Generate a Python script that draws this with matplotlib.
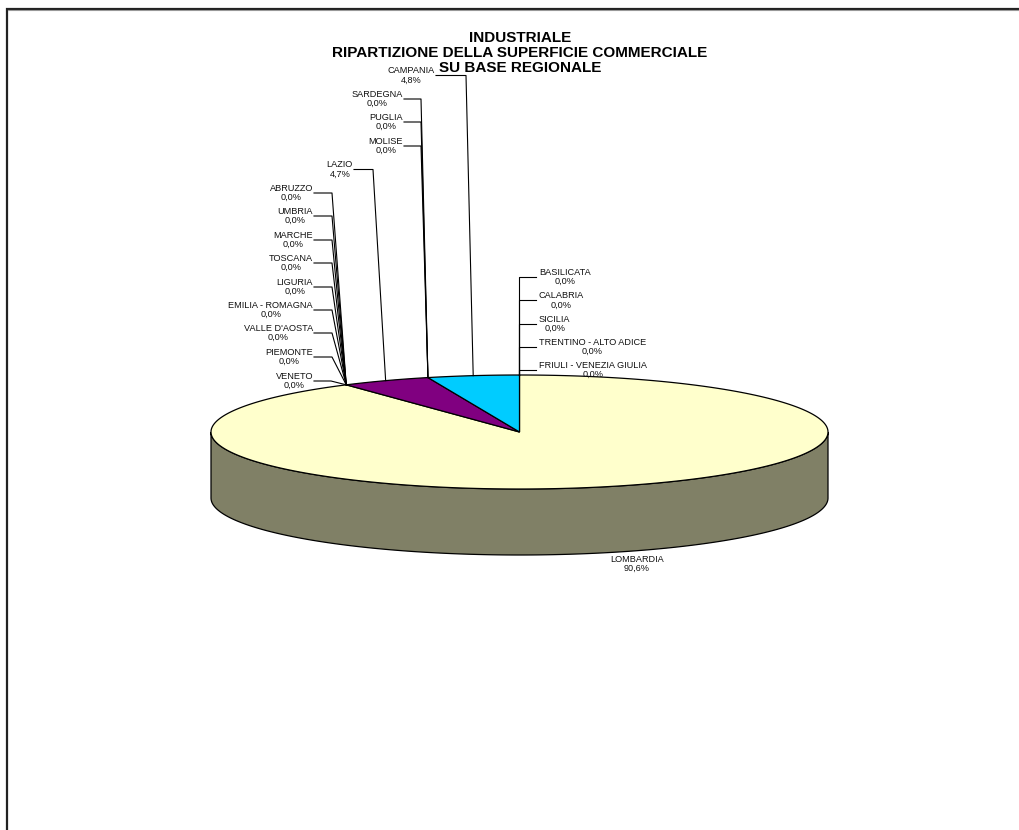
import numpy as np
import matplotlib
matplotlib.use("Agg")
import matplotlib.pyplot as plt
from matplotlib.colors import to_rgb

plt.rcParams["font.family"] = ["Liberation Sans", "DejaVu Sans"]

# Slices in drawing order, clockwise from 12 o'clock
regions = ["LOMBARDIA", "VENETO", "PIEMONTE", "VALLE D'AOSTA", "EMILIA - ROMAGNA",
           "LIGURIA", "TOSCANA", "MARCHE", "UMBRIA", "ABRUZZO", "LAZIO",
           "MOLISE", "PUGLIA", "SARDEGNA", "CAMPANIA",
           "FRIULI - VENEZIA GIULIA", "TRENTINO - ALTO ADICE", "SICILIA",
           "CALABRIA", "BASILICATA"]
shares = [90.6, 0.0, 0.0, 0.0, 0.0, 0.0, 0.0, 0.0, 0.0, 0.0, 4.7,
          0.0, 0.0, 0.0, 4.8, 0.0, 0.0, 0.0, 0.0, 0.0]
slice_colors = ["#FFFFCC", "#9999FF", "#993366", "#CCFFFF", "#660066",
                "#FF8080", "#0066CC", "#CCCCFF", "#000080", "#FF00FF", "#800080",
                "#FFFF00", "#00FFFF", "#800000", "#00CCFF",
                "#008080", "#0000FF", "#CCFFCC", "#FFFF99", "#99CCFF"]
title_lines = ["INDUSTRIALE",
               "RIPARTIZIONE DELLA SUPERFICIE COMMERCIALE",
               "SU BASE REGIONALE"]

# label placement: text x, text y, alignment, elbow x of the leader (None = no leader)
label_pos = {
    "ABRUZZO": (313, 193, "right", 332),
    "UMBRIA": (313, 216, "right", 332),
    "MARCHE": (313, 240, "right", 332),
    "TOSCANA": (313, 263, "right", 332),
    "LIGURIA": (313, 287, "right", 332),
    "EMILIA - ROMAGNA": (313, 310, "right", 332),
    "VALLE D'AOSTA": (313, 333, "right", 332),
    "PIEMONTE": (313, 357, "right", 332),
    "VENETO": (313, 381, "right", 331),
    "LAZIO": (353, 169.5, "right", 373),
    "SARDEGNA": (403, 99, "right", 421),
    "PUGLIA": (403, 122, "right", 421),
    "MOLISE": (403, 146, "right", 421),
    "CAMPANIA": (435, 75.5, "right", 466),
    "BASILICATA": (539, 277, "left", None),
    "CALABRIA": (539, 300.5, "left", None),
    "SICILIA": (539, 324, "left", None),
    "TRENTINO - ALTO ADICE": (539, 347, "left", None),
    "FRIULI - VENEZIA GIULIA": (539, 370, "left", None),
    "LOMBARDIA": (637, 564, "center", "none"),
}

# pie geometry (pixel units)
CX, CY, RX, RY, DEPTH = 519.5, 432.0, 308.5, 57.0, 66.0

fig = plt.figure(figsize=(10.2, 8.3), dpi=100)
ax = fig.add_axes([0, 0, 1, 1])
ax.set_xlim(0, 1020)
ax.set_ylim(830, 0)
ax.axis("off")


def ell(theta_deg, dy=0.0):
    t = np.radians(theta_deg)
    return CX + RX * np.cos(t), CY - RY * np.sin(t) + dy


vals = np.array(shares)
frac = vals / vals.sum()
cum = np.concatenate([[0.0], np.cumsum(frac)])
start_ang = 90 - 360 * cum[:-1]
end_ang = 90 - 360 * cum[1:]

# side walls (only the front half of the disc is visible)
for a0, a1, col in zip(start_ang, end_ang, slice_colors):
    lo, hi = max(a1, -180.0), min(a0, 0.0)
    if hi - lo <= 0:
        continue
    th = np.linspace(lo, hi, 200)
    xt, yt = ell(th)
    xb, yb = ell(th[::-1], DEPTH)
    shade = tuple(c * 0.5 for c in to_rgb(col))
    ax.fill(np.concatenate([xt, xb]), np.concatenate([yt, yb]),
            facecolor=shade, edgecolor="black", linewidth=0.9, zorder=1)

# top faces
for a0, a1, col in zip(start_ang, end_ang, slice_colors):
    if a0 - a1 <= 0:
        continue
    th = np.linspace(a0, a1, max(4, int((a0 - a1) * 2)))
    xs, ys = ell(th)
    ax.fill(np.concatenate([[CX], xs]), np.concatenate([[CY], ys]),
            facecolor=col, edgecolor="black", linewidth=0.9, zorder=2)

# labels and leader lines
for name, v, a0, a1 in zip(regions, shares, start_ang, end_ang):
    tx, ty, ha, elbow = label_pos[name]
    txt = f"{name}\n{v:.1f}%".replace(".", ",")
    ax.text(tx, ty, txt, ha=ha, va="center", multialignment="center",
            fontsize=6.6, color="#111111", linespacing=1.08, zorder=4)
    if elbow == "none":
        continue
    px, py = ell((a0 + a1) / 2)
    if elbow is None:
        xs = [tx - 3, px, px]
        ys = [ty, ty, py]
    else:
        xs = [tx + 1, elbow, px]
        ys = [ty, ty, py]
    ax.plot(xs, ys, color="black", linewidth=0.8, zorder=3)

# chart title
ax.text(520, 53, "\n".join(title_lines), ha="center", va="center",
        fontsize=11, fontweight="bold", linespacing=1.08, zorder=5)

# chart area border
ax.plot([7, 7, 1020], [830, 9, 9], color="#222222", linewidth=1.6,
        solid_joinstyle="miter", zorder=6)
ax.plot([8.5, 1020], [10.5, 10.5], color="#999999", linewidth=0.8, zorder=6)

fig.savefig("out.png", dpi=100)
